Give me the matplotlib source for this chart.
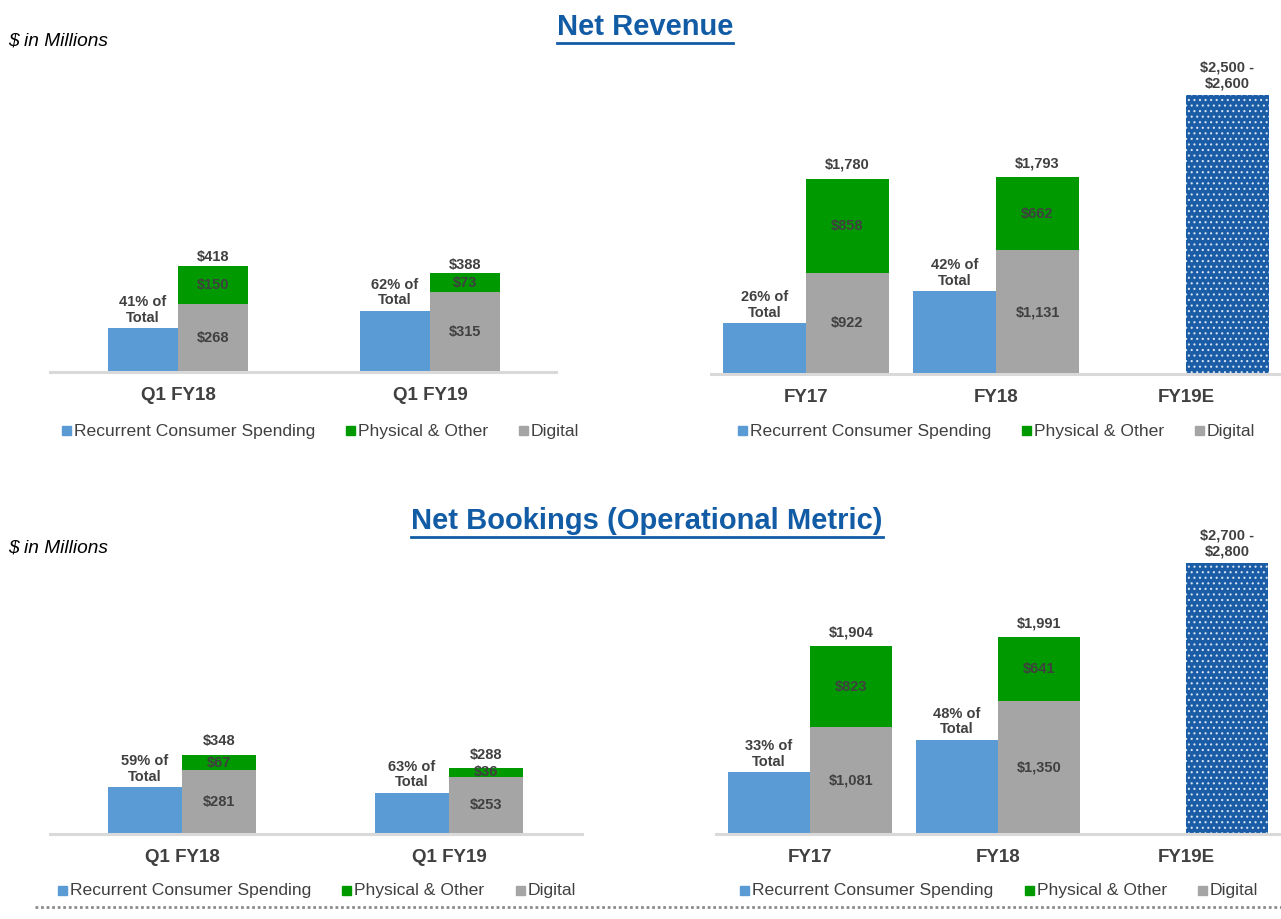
import matplotlib
matplotlib.use('Agg')
import matplotlib.pyplot as plt
from matplotlib.lines import Line2D
from matplotlib.patches import Rectangle

plt.rcParams['font.family'] = ['Liberation Sans', 'DejaVu Sans']
plt.rcParams['hatch.linewidth'] = 0.8

# ---- data ($ in millions) ----
quarters = ['Q1 FY18', 'Q1 FY19']
years = ['FY17', 'FY18', 'FY19E']

rev_q_digital = [268, 315]
rev_q_physical = [150, 73]
rev_q_total = [418, 388]
rev_q_rcs_pct = [41, 62]

rev_fy_digital = [922, 1131]
rev_fy_physical = [858, 662]
rev_fy_total = [1780, 1793]
rev_fy_rcs_pct = [26, 42]
rev_fy19e_range = [2500, 2600]

book_q_digital = [281, 253]
book_q_physical = [67, 36]
book_q_total = [348, 288]
book_q_rcs_pct = [59, 63]

book_fy_digital = [1081, 1350]
book_fy_physical = [823, 641]
book_fy_total = [1904, 1991]
book_fy_rcs_pct = [33, 48]
book_fy19e_range = [2700, 2800]

# colours
BLUE = '#5B9BD5'
GREEN = '#009900'
GRAY = '#A5A5A5'
DARK_BLUE = '#1A5DA6'
TEXT = '#404040'
TITLE = '#125CA5'

W, H = 1281, 919
fig = plt.figure(figsize=(W / 100, H / 100), dpi=100)


def panel(x0, x1, ybase, ytop, scale, pos0, spacing, width_px,
          cats, digital, physical, total, pct, estimate=None, tot_off=5):
    # place axes in pixel terms so bar scale matches the slide
    ax = fig.add_axes([x0 / W, (H - ybase) / H, (x1 - x0) / W, (ybase - ytop) / H])
    ax.set_xlim((x0 - pos0) / spacing, (x1 - pos0) / spacing)
    ax.set_ylim(0, (ybase - ytop) / scale)
    w = width_px / spacing

    for i in range(len(digital)):
        rcs = total[i] * pct[i] / 100
        ax.bar(i - w / 2, rcs, w, color=BLUE, zorder=2)
        ax.bar(i + w / 2, digital[i], w, color=GRAY, zorder=2)
        ax.bar(i + w / 2, physical[i], w, bottom=digital[i], color=GREEN, zorder=2)
        ax.annotate(f'{pct[i]}% of\nTotal', (i - w / 2, rcs), xytext=(0, 2.5),
                    textcoords='offset points', ha='center', va='bottom',
                    fontsize=10.5, fontweight='bold', color=TEXT, linespacing=1.15)
        ax.annotate(f'${total[i]:,}', (i + w / 2, total[i]), xytext=(0, tot_off),
                    textcoords='offset points', ha='center', va='bottom',
                    fontsize=10.5, fontweight='bold', color=TEXT)
        ax.text(i + w / 2, digital[i] / 2, f'${digital[i]:,}', ha='center',
                va='center', fontsize=10.5, fontweight='bold', color=TEXT, zorder=3)
        ax.text(i + w / 2, digital[i] + physical[i] / 2, f'${physical[i]:,}',
                ha='center', va='center', fontsize=10.5, fontweight='bold',
                color=TEXT, zorder=3)

    if estimate is not None:
        i = len(digital)
        mid = sum(estimate) / 2
        ax.bar(i + w / 2, mid, w, color=DARK_BLUE, edgecolor='#D5E2F2',
               hatch='...', linewidth=0, zorder=2)
        ax.annotate(f'${estimate[0]:,} -\n${estimate[1]:,}', (i + w / 2, mid),
                    xytext=(0, 3), textcoords='offset points', ha='center',
                    va='bottom', fontsize=10.5, fontweight='bold', color=TEXT,
                    linespacing=1.15)

    ax.set_xticks(range(len(cats)))
    ax.set_xticklabels(cats, fontsize=13.5, fontweight='bold', color=TEXT)
    ax.tick_params(axis='x', length=0, pad=11)
    ax.set_yticks([])
    for s in ['top', 'left', 'right']:
        ax.spines[s].set_visible(False)
    ax.spines['bottom'].set_color('#D9D9D9')
    ax.spines['bottom'].set_linewidth(2.2)
    return ax


def legend_row(y, xs):
    labels = ['Recurrent Consumer Spending', 'Physical & Other', 'Digital']
    colors = [BLUE, GREEN, GRAY]
    for x, lab, c in zip(xs, labels, colors):
        fig.add_artist(Rectangle((x / W, (H - y - 4) / H), 9 / W, 9 / H,
                                 transform=fig.transFigure, color=c))
        fig.text((x + 12) / W, (H - y) / H, lab, fontsize=12.6, color=TEXT,
                 ha='left', va='center')


def title(x, y, s):
    t = fig.text(x / W, (H - y) / H, s, fontsize=21, fontweight='bold',
                 color=TITLE, ha='center', va='center')
    fig.canvas.draw()
    bb = t.get_window_extent()
    uy = bb.y0 - 2
    fig.add_artist(Line2D([bb.x0 / W, bb.x1 / W], [uy / H, uy / H],
                          transform=fig.transFigure, color=TITLE, lw=2))


# Net Revenue
title(645, 27, 'Net Revenue')
fig.text(8 / W, (H - 41) / H, '$ in Millions', fontsize=13.8, style='italic',
         color='black', va='center')
panel(50, 556, 372, 60, 0.254, 178, 252, 70, quarters,
      rev_q_digital, rev_q_physical, rev_q_total, rev_q_rcs_pct, tot_off=1)
panel(711, 1281, 374, 60, 0.1096, 806, 190, 83, years,
      rev_fy_digital, rev_fy_physical, rev_fy_total, rev_fy_rcs_pct, rev_fy19e_range)
legend_row(431, [62, 346, 519])
legend_row(431, [738, 1022, 1195])

# Net Bookings
title(647, 521, 'Net Bookings (Operational Metric)')
fig.text(8 / W, (H - 548) / H, '$ in Millions', fontsize=13.8, style='italic',
         color='black', va='center')
panel(50, 582, 834, 540, 0.227, 182, 267, 74, quarters,
      book_q_digital, book_q_physical, book_q_total, book_q_rcs_pct)
panel(716, 1281, 834, 540, 0.0987, 810, 188, 82, years,
      book_fy_digital, book_fy_physical, book_fy_total, book_fy_rcs_pct, book_fy19e_range)
legend_row(891, [58, 342, 516])
legend_row(891, [740, 1025, 1198])

# dotted rule at the bottom
fig.add_artist(Line2D([35 / W, 1], [(H - 907) / H] * 2, transform=fig.transFigure,
                      color='#8C8C8C', lw=2, linestyle=(0, (1, 1))))

fig.savefig('out.png', dpi=100)
